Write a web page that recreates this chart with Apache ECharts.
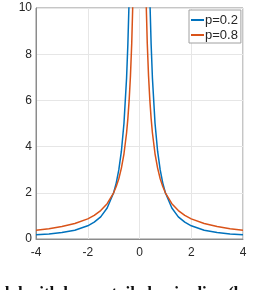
<!DOCTYPE html>
<html>
<head>
<meta charset="utf-8">
<script src="https://cdn.jsdelivr.net/npm/echarts@6/dist/echarts.min.js"></script>
<style>
html,body{margin:0;padding:0;background:#fff;}
#c{width:254px;height:290px;}
</style>
</head>
<body>
<div id="c"></div>
<script>
var xs = [-4, -3.5, -3, -2.5, -2, -1.75, -1.5, -1.25, -1, -0.9, -0.8, -0.7, -0.6, -0.5, -0.45, -0.4, -0.35, -0.3, -0.25, -0.2,
          0.2, 0.25, 0.3, 0.35, 0.4, 0.45, 0.5, 0.6, 0.7, 0.8, 0.9, 1, 1.25, 1.5, 1.75, 2, 2.5, 3, 3.5, 4];
// p = 0.2 (blue)
var blueVals = [0.18, 0.22, 0.28, 0.38, 0.57, 0.73, 0.96, 1.34, 2.0, 2.42, 2.99, 3.80, 5.01, 6.96, 8.42, 10.4, 13.2, 17.4, 24, 36,
                36, 24, 17.4, 13.2, 10.4, 8.42, 6.96, 5.01, 3.80, 2.99, 2.42, 2.0, 1.34, 0.96, 0.73, 0.57, 0.38, 0.28, 0.22, 0.18];
// p = 0.8 (orange)
var orangeVals = [0.38, 0.44, 0.54, 0.67, 0.87, 1.02, 1.23, 1.53, 2.0, 2.27, 2.61, 3.07, 3.69, 4.59, 5.21, 6.01, 7.05, 8.48, 10.55, 13.8,
                  13.8, 10.55, 8.48, 7.05, 6.01, 5.21, 4.59, 3.69, 3.07, 2.61, 2.27, 2.0, 1.53, 1.23, 1.02, 0.87, 0.67, 0.54, 0.44, 0.38];
var seriesNames = ['p=0.2', 'p=0.8'];
var xTicks = [-4, -2, 0, 2, 4];
var yTicks = [0, 2, 4, 6, 8, 10];
var caption = 'dal with heavy-tailed noise line (b';

function pairs(vals) {
  var out = [];
  for (var i = 0; i < xs.length; i++) {
    if (i > 0 && xs[i - 1] < 0 && xs[i] > 0) out.push([0, null]);
    out.push([xs[i], vals[i]]);
  }
  return out;
}

var chart = echarts.init(document.getElementById('c'), null, {renderer: 'canvas'});
var axisColor = '#8c8c8c';
var txt = '#262626';
chart.setOption({
  animation: false,
  backgroundColor: '#fff',
  grid: {left: 36, right: 11, top: 8, bottom: 51, containLabel: false,
         show: true, borderColor: axisColor, borderWidth: 1},
  xAxis: {
    type: 'value', min: xTicks[0], max: xTicks[xTicks.length - 1], interval: 2,
    axisLine: {show: true, onZero: false, lineStyle: {color: axisColor, width: 1}},
    axisTick: {show: false},
    axisLabel: {color: txt, fontFamily: 'Liberation Sans, Arial, sans-serif', fontSize: 12, margin: 8},
    splitLine: {show: true, lineStyle: {color: '#e6e6e6', width: 1}}
  },
  yAxis: {
    type: 'value', min: yTicks[0], max: yTicks[yTicks.length - 1], interval: 2,
    axisLine: {show: true, onZero: false, lineStyle: {color: axisColor, width: 1}},
    axisTick: {show: false},
    axisLabel: {color: txt, fontFamily: 'Liberation Sans, Arial, sans-serif', fontSize: 12, margin: 4},
    splitLine: {show: true, lineStyle: {color: '#e6e6e6', width: 1}}
  },
  legend: {
    data: seriesNames,
    orient: 'vertical',
    left: 189, top: 10,
    padding: [3, 3, 1, 2],
    itemGap: 1,
    itemWidth: 13, itemHeight: 2,
    icon: 'rect',
    borderColor: '#a0a0a0', borderWidth: 1,
    backgroundColor: '#fff',
    textStyle: {color: txt, fontFamily: 'Liberation Sans, Arial, sans-serif', fontSize: 13, lineHeight: 14, padding: [0, 0, 0, -4]}
  },
  series: [
    {name: seriesNames[0], type: 'line', data: pairs(blueVals), showSymbol: false, symbol: 'none',
     connectNulls: false, clip: true, smooth: false,
     lineStyle: {color: '#0072BD', width: 1.5}, itemStyle: {color: '#0072BD'}},
    {name: seriesNames[1], type: 'line', data: pairs(orangeVals), showSymbol: false, symbol: 'none',
     connectNulls: false, clip: true, smooth: false,
     lineStyle: {color: '#D95319', width: 1.5}, itemStyle: {color: '#D95319'}}
  ],
  graphic: [
    {type: 'text', left: 0, top: 285,
     style: {text: caption, font: 'bold 17px "Liberation Serif", serif', fill: '#111'}}
  ]
});
</script>
</body>
</html>
